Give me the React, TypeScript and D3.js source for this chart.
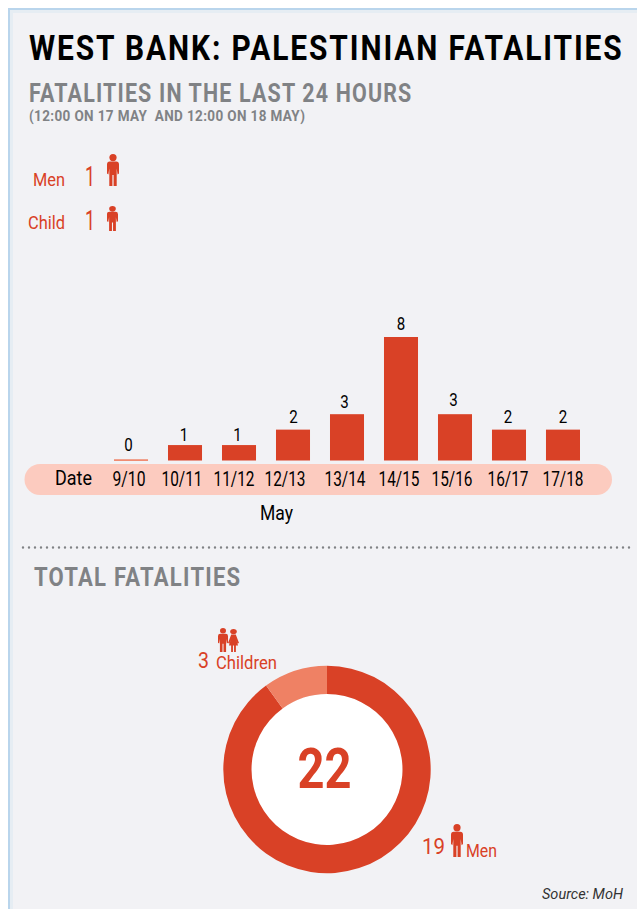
import React, { useEffect, useRef } from 'react';
import * as d3 from 'd3';

const dates = ['9/10', '10/11', '11/12', '12/13', '13/14', '14/15', '15/16', '16/17', '17/18'];
const fatalities = [0, 1, 1, 2, 3, 8, 3, 2, 2];

// the date labels and counts do not sit quite centred on their bars in the original
const dateNudge = [-2, -3, -5, -8, -2, -2, -3, -1, 0];
const countNudge = [-2.5, -1, -1.5, 0.5, -2.4, 0, -1.4, -1, 0];
const countLift = [10, 4.5, 4.5, 6.5, 6.5, 7.5, 8.5, 6.5, 6.5];

const ringLabels = ['Men', 'Children'];
const ringCounts = [19, 3];
// share of the ring as drawn: the light slice is narrower than 3 of 22 in the original
const ringShares = [90, 10];
const total = 22;

const RED = '#d94126';
const LIGHT_RED = '#ef8164';
const GREY = '#808285';
const FONT = 'Roboto, sans-serif';

const MAN = 'M2.8 7.5H9.2Q12 7.5 12 10.5V19.5L10.6 20.5L9.7 14.5V32H6.6V21H5.4V32H2.3V14.5L1.4 20.5L0 19.5V10.5Q0 7.5 2.8 7.5Z';
const GIRL = 'M3.5 7.5H8.5L12 19.5L10.4 20.2L9 15L11 23H8.6V32H6.6V23H5.4V32H3.4V23H1L3 15L1.6 20.2L0 19.5Z';

type Opts = { size: number; width?: number; weight?: number; fill?: string; anchor?: string; italic?: boolean; track?: number };

const App = () => {
    const ref = useRef<SVGSVGElement>(null);

    useEffect(() => {
        if (!ref.current) return;
        const svg = d3.select(ref.current);
        svg.selectAll('*').remove();

        // Roboto is squeezed to its measured width to stand in for the condensed cut
        const label = (str: string, x: number, y: number, o: Opts) => {
            const t = svg.append('text')
                .attr('font-family', FONT)
                .attr('font-size', o.size)
                .attr('font-weight', o.weight ?? 400)
                .attr('font-style', o.italic ? 'italic' : 'normal')
                .attr('letter-spacing', o.track ?? 0)
                .attr('fill', o.fill ?? '#000')
                .attr('text-anchor', o.anchor ?? 'start')
                .style('white-space', 'pre')
                .text(str);
            const s = o.width ? o.width / t.node()!.getComputedTextLength() : 1;
            t.attr('transform', `translate(${x},${y}) scale(${s},1)`);
            return t;
        };

        const person = (path: string, x: number, y: number, h: number, w = 12) => {
            const g = svg.append('g')
                .attr('transform', `translate(${x},${y}) scale(${w / 12},${h / 32})`)
                .attr('fill', RED);
            g.append('circle').attr('cx', 6).attr('cy', 3.6).attr('r', 3.6);
            g.append('path').attr('d', path);
        };

        // panel
        svg.append('rect').attr('width', 637).attr('height', 909).attr('fill', '#fff');
        svg.append('rect').attr('x', 8).attr('y', 8).attr('width', 629).attr('height', 901).attr('fill', '#b9d5ec');
        svg.append('rect').attr('x', 10).attr('y', 10).attr('width', 627).attr('height', 899).attr('fill', '#e6edf3');
        svg.append('rect').attr('x', 13).attr('y', 13).attr('width', 624).attr('height', 896).attr('fill', '#f2f2f5');

        // headings
        label('WEST BANK: PALESTINIAN FATALITIES', 29, 60, { size: 35, weight: 700, width: 595, track: 2.2 });
        label('FATALITIES IN THE LAST 24 HOURS', 29, 102, { size: 26, weight: 700, fill: GREY, width: 383.5, track: 1.4 });
        label('(12:00 ON 17 MAY  AND 12:00 ON 18 MAY)', 29, 120.5, { size: 14.5, weight: 700, fill: GREY, width: 276.5, track: 0.4 });

        // last 24 hours
        label('Men', 33, 186, { size: 18, fill: RED, width: 32 });
        label('1', 85, 186, { size: 27, fill: RED, width: 10 });
        person(MAN, 107, 154, 32);
        label('Child', 28, 229, { size: 18, fill: RED, width: 37 });
        label('1', 85, 230, { size: 27, fill: RED, width: 10 });
        person(MAN, 107, 206, 25, 11);

        // bars
        const x = d3.scaleBand<string>().domain(dates).range([114, 580]).paddingInner(0.37).paddingOuter(0);
        const y = d3.scaleLinear().domain([0, 8]).range([460.5, 337]);

        svg.append('rect')
            .attr('x', 24.5).attr('y', 464)
            .attr('width', 587.5).attr('height', 31)
            .attr('rx', 15.5)
            .attr('fill', '#fccbbf');

        svg.selectAll('rect.bar')
            .data(fatalities)
            .enter().append('rect')
            .attr('class', 'bar')
            .attr('x', (_, i) => x(dates[i])!)
            .attr('y', d => (d === 0 ? y(0) - 1.2 : y(d)))
            .attr('width', x.bandwidth())
            .attr('height', d => (d === 0 ? 1.6 : y(0) - y(d)))
            .attr('fill', d => (d === 0 ? LIGHT_RED : RED));

        fatalities.forEach((d, i) => {
            label(String(d), x(dates[i])! + x.bandwidth() / 2 + countNudge[i], y(d) - countLift[i], {
                size: 18.5,
                anchor: 'middle',
                width: 8.5,
            });
        });

        const axis = svg.append('g')
            .attr('transform', 'translate(0,485.5)')
            .call(d3.axisBottom(x).tickSize(0).tickPadding(0));
        axis.select('.domain').remove();
        axis.selectAll<SVGTextElement, string>('text')
            .attr('dy', 0)
            .attr('y', 0)
            .attr('font-family', FONT)
            .attr('font-size', 20)
            .attr('fill', '#000')
            .attr('transform', function (d, i) {
                const s = (d === '9/10' ? 33 : 41) / this.getComputedTextLength();
                return `translate(${dateNudge[i]},0) scale(${s},1)`;
            });

        label('Date', 55, 485, { size: 21, width: 37 });
        label('May', 260, 519.5, { size: 20, width: 33 });

        // divider
        svg.append('line')
            .attr('x1', 23).attr('x2', 630)
            .attr('y1', 547.5).attr('y2', 547.5)
            .attr('stroke', GREY)
            .attr('stroke-width', 2.4)
            .attr('stroke-linecap', 'round')
            .attr('stroke-dasharray', '0 6');

        // total
        label('TOTAL FATALITIES', 34, 586, { size: 25, weight: 700, fill: GREY, width: 207.5, track: 1.4 });

        const pie = d3.pie<number>().sort(null)(ringShares);
        const arc = d3.arc<d3.PieArcDatum<number>>().innerRadius(75.5).outerRadius(103.7);
        const ring = svg.append('g').attr('transform', 'translate(327,769.5)');
        ring.append('circle').attr('r', 75.5).attr('fill', '#fff');
        ring.selectAll('path')
            .data(pie)
            .enter().append('path')
            .attr('d', arc)
            .attr('fill', (_, i) => (i === 0 ? RED : LIGHT_RED));

        label(String(total), 324.5, 787.7, { size: 56, weight: 700, fill: RED, anchor: 'middle', width: 54 });

        label(String(ringCounts[1]), 198, 668, { size: 22, fill: RED, width: 11 });
        label(ringLabels[1], 216, 669, { size: 18, fill: RED, width: 61 });
        person(MAN, 218, 628, 24, 10);
        person(GIRL, 228, 629, 23, 11);

        label(String(ringCounts[0]), 422, 854, { size: 22.5, fill: RED, width: 23 });
        person(MAN, 451, 824, 33);
        label(ringLabels[0], 466, 857, { size: 18, fill: RED, width: 31 });

        label('Source: MoH', 542, 899, { size: 15, italic: true, fill: '#333', width: 81 });
    }, []);

    return <svg ref={ref} width={637} height={909} style={{ position: 'absolute', left: 0, top: 0 }} />;
};

export default App;
